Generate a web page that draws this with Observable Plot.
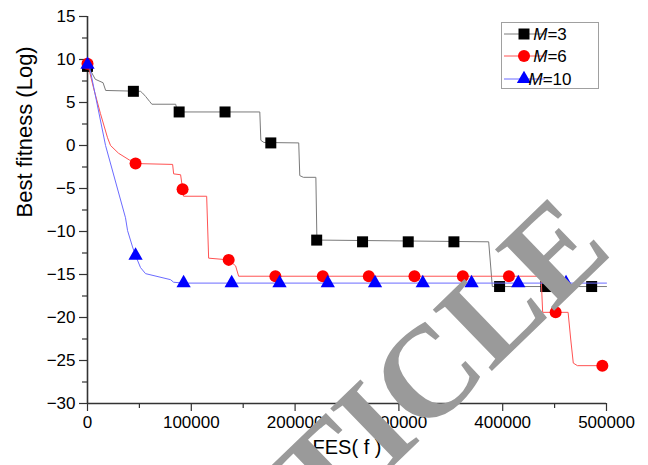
<!DOCTYPE html>
<html>
<head>
<meta charset="utf-8">
<script src="https://cdn.jsdelivr.net/npm/d3@7"></script>
<script src="https://cdn.jsdelivr.net/npm/@observablehq/plot@0.6"></script>
<style>
  html, body { margin: 0; padding: 0; background: #fff; overflow: hidden; }
  #chart { width: 648px; height: 465px; }
</style>
</head>
<body>
<div id="chart"></div>
<script>
// ---- Data ----
const seriesNames = ["M=3", "M=6", "M=10"];

// M=3 : line trace
const m3LineFEs = [0, 3000, 7500, 15000, 17500, 51000, 53000, 56000, 60000, 62000, 85000, 86500, 166000, 167000, 170000, 203500, 204500, 208000, 220000, 221000, 225000, 386500, 390000, 500000];
const m3LineVal = [9.3, 8.7, 7.7, 7.3, 6.4, 6.3, 6.1, 5.7, 5.1, 4.8, 4.8, 3.9, 3.9, 0.6, 0.35, 0.3, -3.5, -3.7, -3.7, -10.9, -11.0, -11.2, -16.4, -16.4];
// M=3 : markers
const m3MarkFEs = [0, 44200, 88300, 132500, 176600, 220800, 265000, 309000, 353000, 397000, 441500, 485700];
const m3MarkVal = [9.2, 6.3, 3.9, 3.9, 0.3, -11.0, -11.2, -11.2, -11.2, -16.4, -16.4, -16.4];

// M=6 : line trace
const m6LineFEs = [0, 2000, 5800, 12500, 19300, 22200, 29900, 40500, 46300, 82000, 83000, 89700, 92600, 114800, 116700, 136000, 142700, 145600, 437000, 438500, 463000, 465500, 468000, 472000, 497000];
const m6LineVal = [9.5, 8.6, 6.7, 3.7, 0.9, 0.0, -0.9, -1.7, -2.1, -2.2, -3.3, -3.4, -5.9, -5.9, -13.1, -13.3, -14.0, -15.2, -15.2, -19.4, -19.4, -22.5, -25.3, -25.6, -25.6];
// M=6 : markers
const m6MarkFEs = [0, 46300, 91600, 136000, 181000, 226700, 271000, 315000, 361600, 406000, 451000, 496000];
const m6MarkVal = [9.5, -2.1, -5.1, -13.3, -15.2, -15.2, -15.2, -15.2, -15.2, -15.2, -19.4, -25.6];

// M=10 : line trace
const m10LineFEs = [0, 1900, 17400, 36600, 38600, 43400, 46300, 51100, 55900, 80000, 83000, 92600, 500000];
const m10LineVal = [9.4, 9.2, 0.0, -8.4, -9.9, -11.8, -12.8, -14.2, -14.9, -15.6, -15.9, -16.0, -16.0];
// M=10 : markers
const m10MarkFEs = [0, 46300, 92600, 138900, 185000, 231500, 277000, 323000, 370000, 415000, 461000];
const m10MarkVal = [9.4, -12.8, -16.0, -16.0, -16.0, -16.0, -16.0, -16.0, -16.0, -16.0, -16.0];

// Axis ticks
const yMajorTicks = [-30, -25, -20, -15, -10, -5, 0, 5, 10, 15];
const yMinorTicks = [-27.5, -22.5, -17.5, -12.5, -7.5, -2.5, 2.5, 7.5, 12.5];
const xMajorTicks = [0, 100000, 200000, 300000, 400000, 500000];
const xMinorTicks = [50000, 150000, 250000, 350000, 450000];

const yLabel = "Best fitness (Log)";
const xLabel = "FES( f )";
const watermark = "RETRACTED ARTICLE";

// ---- Build tables ----
const zip = (xs, ys) => xs.map((f, i) => ({f, v: ys[i]}));
const m3Line = zip(m3LineFEs, m3LineVal), m3Mark = zip(m3MarkFEs, m3MarkVal);
const m6Line = zip(m6LineFEs, m6LineVal), m6Mark = zip(m6MarkFEs, m6MarkVal);
const m10Line = zip(m10LineFEs, m10LineVal), m10Mark = zip(m10MarkFEs, m10MarkVal);

const styles = [
  {line: "#7a7a7a", fill: "#000000", symbol: "square", r: 6.2, d3sym: d3.symbolSquare},
  {line: "#ff5252", fill: "#ff0000", symbol: "circle", r: 6.0, d3sym: d3.symbolCircle},
  {line: "#6b6bff", fill: "#0000ff", symbol: "triangle", r: 5.3, d3sym: d3.symbolTriangle}
];

const font = "'Liberation Sans', Arial, Helvetica, sans-serif";

const chart = Plot.plot({
  width: 648,
  height: 465,
  marginLeft: 87,
  marginRight: 42,
  marginTop: 16,
  marginBottom: 62,
  style: {fontFamily: font, fontSize: "17px", color: "#000", background: "#fff"},
  x: {domain: [0, 500000]},
  y: {domain: [-30, 15]},
  marks: [
    Plot.axisY(yMajorTicks, {tickSize: 8, tickPadding: 4, fontSize: 17, label: null, stroke: "#333", strokeWidth: 1.2, fill: "#000"}),
    Plot.axisY(yMinorTicks, {tickSize: 5, text: null, label: null, stroke: "#333", strokeWidth: 1.2}),
    Plot.axisX(xMajorTicks, {tickSize: 8, tickPadding: 4, fontSize: 17, label: null, tickFormat: d => String(d), stroke: "#333", strokeWidth: 1.2, fill: "#000"}),
    Plot.axisX(xMinorTicks, {tickSize: 5, text: null, label: null, stroke: "#333", strokeWidth: 1.2}),
    Plot.ruleX([0], {stroke: "#333", strokeWidth: 1.6}),
    Plot.ruleY([-30], {stroke: "#333", strokeWidth: 1.6}),

    Plot.line(m3Line, {x: "f", y: "v", stroke: styles[0].line, strokeWidth: 1}),
    Plot.dot(m3Mark, {x: "f", y: "v", symbol: styles[0].symbol, r: styles[0].r, fill: styles[0].fill, stroke: "none"}),
    Plot.line(m6Line, {x: "f", y: "v", stroke: styles[1].line, strokeWidth: 1}),
    Plot.dot(m6Mark, {x: "f", y: "v", symbol: styles[1].symbol, r: styles[1].r, fill: styles[1].fill, stroke: "none"}),
    Plot.line(m10Line, {x: "f", y: "v", stroke: styles[2].line, strokeWidth: 1}),
    Plot.dot(m10Mark, {x: "f", y: "v", symbol: styles[2].symbol, r: styles[2].r, fill: styles[2].fill, stroke: "none"}),

    Plot.text([yLabel], {text: d => d, frameAnchor: "left", dx: -63, dy: 7.5, rotate: -90, fontSize: 22, fill: "#000"}),
    Plot.text([xLabel], {text: d => d, frameAnchor: "bottom", dy: 50.5, fontSize: 20, fill: "#000"})
  ]
});

document.getElementById("chart").appendChild(chart);

// ---- Legend (inside plot, top-right) ----
const svg = d3.select(chart);
const lg = svg.append("g").attr("font-family", font).attr("font-size", 17);
lg.append("rect").attr("x", 501.5).attr("y", 22.5).attr("width", 97).attr("height", 66)
  .attr("fill", "#fff").attr("stroke", "#a0a0a0").attr("stroke-width", 1);
const rowY = [34, 56, 79];
seriesNames.forEach((name, i) => {
  const s = styles[i];
  const y = rowY[i];
  lg.append("line").attr("x1", 504).attr("x2", 545).attr("y1", y).attr("y2", y)
    .attr("stroke", s.line).attr("stroke-width", 1);
  lg.append("path").attr("d", d3.symbol(s.d3sym, s.r * s.r * Math.PI)())
    .attr("transform", `translate(524,${y})`).attr("fill", s.fill);
  const t = lg.append("text").attr("x", 550).attr("y", y + 6).attr("fill", "#000");
  t.append("tspan").attr("font-style", "italic").text(name.split("=")[0]);
  t.append("tspan").text("=" + name.split("=")[1]);
});

// ---- Watermark overlay ----
svg.append("text")
  .attr("transform", "translate(615,252) rotate(-44)")
  .attr("text-anchor", "end")
  .attr("font-family", "'Liberation Serif', 'Times New Roman', serif")
  .attr("font-weight", "bold")
  .attr("font-size", 130)
  .attr("fill", "#9a9a9a")
  .text(watermark);
</script>
</body>
</html>
